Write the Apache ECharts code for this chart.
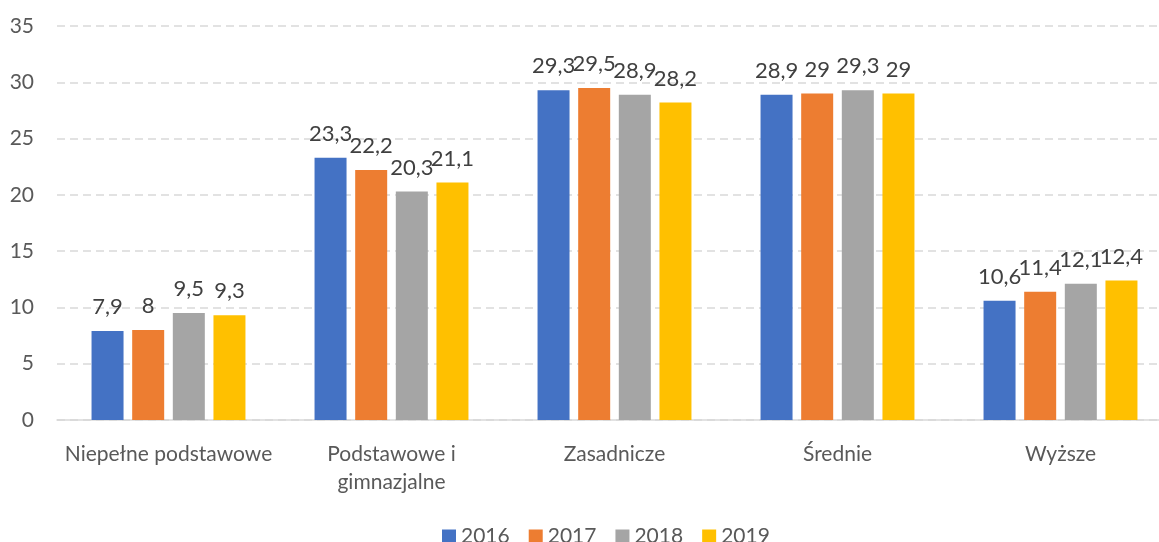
<!DOCTYPE html>
<html>
<head>
<meta charset="utf-8">
<script src="https://cdn.jsdelivr.net/npm/echarts@6/dist/echarts.min.js"></script>
<style>
  html, body { margin: 0; padding: 0; background: #fff; overflow: hidden; }
  #wrap { width: 1159px; height: 542px; overflow: hidden; }
  #chart { width: 1180px; height: 542px; }
</style>
</head>
<body>
<div id="wrap"><div id="chart"></div></div>
<script>
// Education level categories
const categories = ['Niepełne podstawowe', 'Podstawowe i\ngimnazjalne', 'Zasadnicze', 'Średnie', 'Wyższe'];
// Yearly shares per category
const years = ['2016', '2017', '2018', '2019'];
const values2016 = [7.9, 23.3, 29.3, 28.9, 10.6];
const values2017 = [8.0, 22.2, 29.5, 29.0, 11.4];
const values2018 = [9.5, 20.3, 28.9, 29.3, 12.1];
const values2019 = [9.3, 21.1, 28.2, 29.0, 12.4];
const colors = ['#4472C4', '#ED7D31', '#A5A5A5', '#FFC000'];

const FONT = 'Lato, "Open Sans", sans-serif';
const seriesData = [values2016, values2017, values2018, values2019];

const chart = echarts.init(document.getElementById('chart'));
chart.setOption({
  animation: false,
  color: colors,
  textStyle: { fontFamily: FONT },
  grid: { left: 57, width: 1115, top: 26, height: 394, containLabel: false },
  legend: {
    top: 521,
    left: 437,
    itemWidth: 14,
    itemHeight: 14,
    itemGap: 19,
    icon: 'rect',
    textStyle: { fontSize: 21, color: '#595959', fontFamily: FONT }
  },
  xAxis: {
    type: 'category',
    data: categories,
    axisTick: { show: false },
    axisLine: { lineStyle: { color: '#D9D9D9', width: 1.5 } },
    axisLabel: { interval: 0, color: '#595959', fontSize: 21, margin: 20, lineHeight: 28, fontFamily: FONT }
  },
  yAxis: {
    type: 'value',
    min: 0,
    max: 35,
    interval: 5,
    axisLine: { show: false },
    axisTick: { show: false },
    axisLabel: { color: '#595959', fontSize: 21, margin: 23, fontFamily: FONT },
    splitLine: { lineStyle: { color: '#D9D9D9', type: [8, 5], width: 1.5 } }
  },
  series: years.map((y, i) => ({
    name: y,
    type: 'bar',
    data: seriesData[i],
    barWidth: 32,
    barGap: '27%',
    itemStyle: { color: colors[i] },
    label: {
      show: true,
      position: 'top',
      distance: 13,
      color: '#404040',
      fontSize: 22,
      fontFamily: FONT,
      formatter: p => String(p.value).replace('.', ',')
    }
  }))
});
</script>
</body>
</html>
